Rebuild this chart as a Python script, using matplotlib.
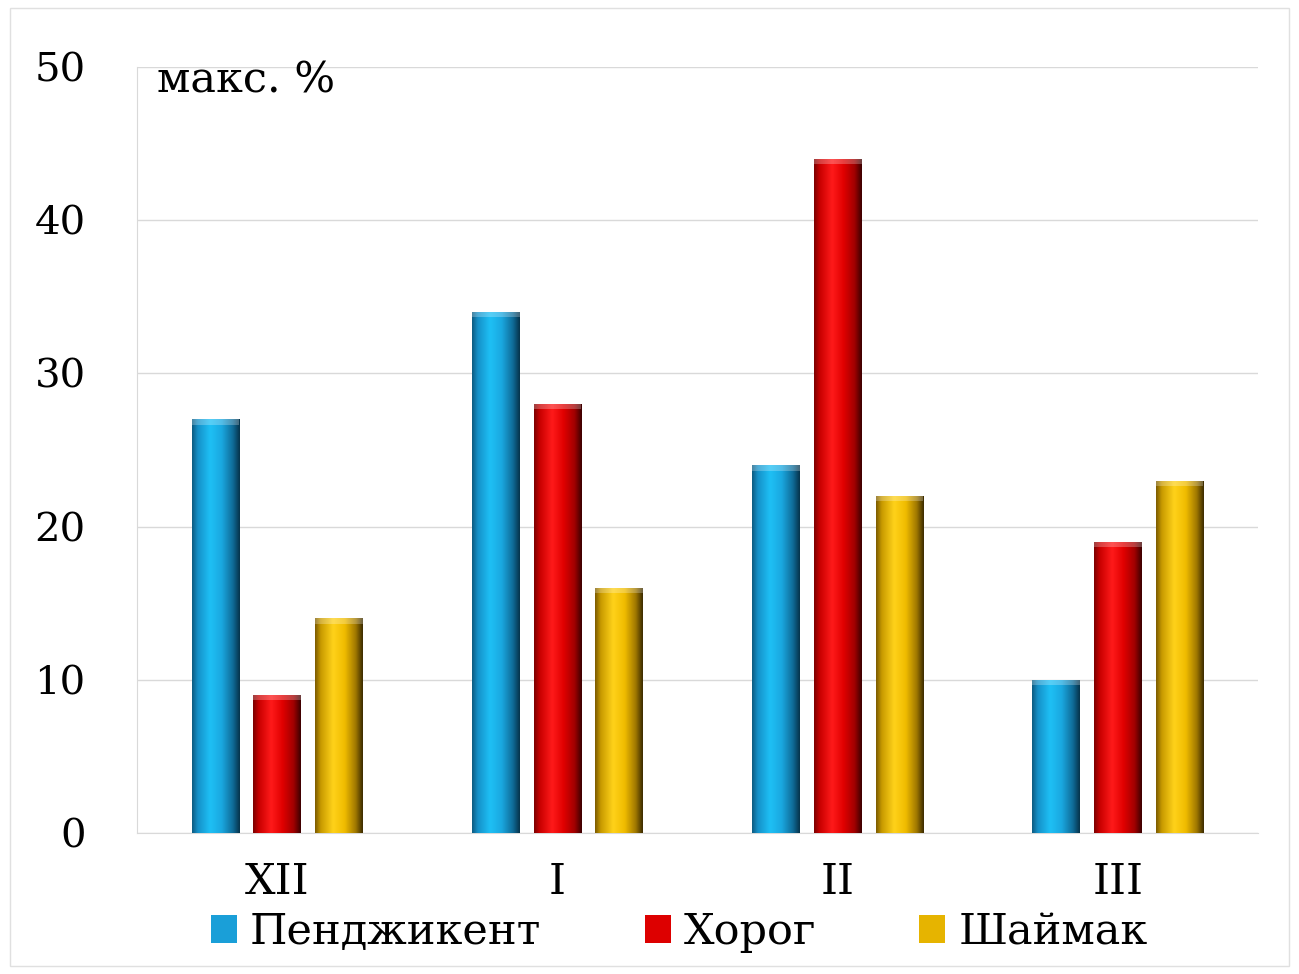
import numpy as np
import matplotlib
matplotlib.use("Agg")
import matplotlib.pyplot as plt
from matplotlib.colors import LinearSegmentedColormap
from matplotlib.patches import Rectangle, Patch

# данные
months = ["XII", "I", "II", "III"]
stations = ["Пенджикент", "Хорог", "Шаймак"]
penj = [27, 34, 24, 10]
khorog = [9, 28, 44, 19]
shaimak = [14, 16, 22, 23]
yticks = [0, 10, 20, 30, 40, 50]

plt.rcParams['font.family'] = ['DejaVu Serif', 'Liberation Serif']

colors = {
    "Пенджикент": ["#0d5a80", "#1590c8", "#1ec0f5", "#1aa8e0", "#0f6d9a", "#06324a"],
    "Хорог": ["#7a0000", "#c80000", "#ff1a1a", "#e00000", "#a00000", "#3a0000"],
    "Шаймак": ["#7a5a00", "#c89a00", "#ffd21a", "#f0bc00", "#a07800", "#3a2a00"],
}
flat = {"Пенджикент": "#1a9fd8", "Хорог": "#dd0000", "Шаймак": "#e6b400"}

fig = plt.figure(figsize=(12.99, 9.74), dpi=100)
ax = fig.add_axes([0.1055, 0.1448, 0.863, 0.7864])

x = np.arange(len(months))
w = 0.17
offs = [-0.22, 0, 0.22]
grad = np.linspace(0, 1, 256).reshape(1, -1)

for s, vals, off in zip(stations, [penj, khorog, shaimak], offs):
    cmap = LinearSegmentedColormap.from_list(
        s, list(zip([0, 0.12, 0.38, 0.62, 0.85, 1.0], colors[s])))
    bars = ax.bar(x + off, vals, w, color=flat[s], zorder=2, edgecolor="none")
    for b in bars:
        bx, by, bw, bh = b.get_x(), b.get_y(), b.get_width(), b.get_height()
        im = ax.imshow(grad, cmap=cmap, extent=[bx, bx + bw, by, by + bh],
                       aspect="auto", zorder=3, interpolation="bicubic")
        im.set_clip_path(b)
        # верхняя кромка
        ax.add_patch(Rectangle((bx, by + bh - 0.35), bw, 0.35,
                               facecolor="white", alpha=0.25, zorder=4,
                               edgecolor="none"))

ax.set_xlim(-0.5, 3.5)
ax.set_ylim(0, 50)
ax.set_yticks(yticks)
ax.set_yticklabels([str(v) for v in yticks], fontsize=29)
ax.set_xticks(x)
ax.set_xticklabels(months, fontsize=31)
ax.tick_params(length=0)
ax.tick_params(axis="y", pad=37)
ax.tick_params(axis="x", pad=20)
ax.grid(axis="y", color="#d9d9d9", linewidth=1, zorder=0)
ax.set_axisbelow(True)
for sp in ["top", "right"]:
    ax.spines[sp].set_visible(False)
ax.spines["left"].set_color("#d9d9d9")
ax.spines["bottom"].set_color("#d9d9d9")

ax.text(0.018, 0.982, "макс. %", transform=ax.transAxes, fontsize=31,
        ha="left", va="center", zorder=5)

handles = [Patch(facecolor=flat[s], edgecolor="none") for s in stations]
fig.legend(handles, stations, loc="center", bbox_to_anchor=(0.523, 0.043),
           ncol=3, frameon=False, fontsize=31, handlelength=0.6,
           handleheight=0.6, handletextpad=0.3, columnspacing=2.4)

fig.patches.append(Rectangle((0.008, 0.008), 0.984, 0.984,
                             transform=fig.transFigure, fill=False,
                             edgecolor="#e0e0e0", linewidth=1))

fig.savefig("out.png", dpi=100)
